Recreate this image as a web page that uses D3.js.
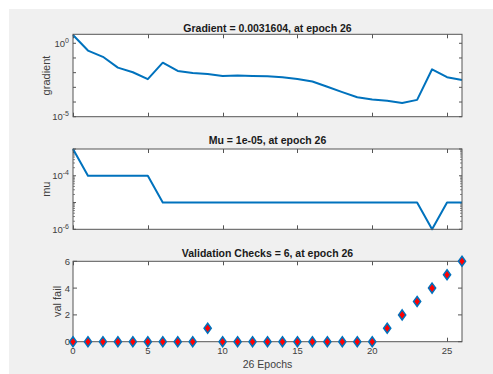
<!DOCTYPE html>
<html><head><meta charset="utf-8">
<script src="https://cdn.jsdelivr.net/npm/d3@7"></script>
<style>body{margin:0;background:#fff}svg{display:block;font-family:"Liberation Sans",Arial,sans-serif}</style>
</head><body><svg id="c" width="493" height="374"></svg>
<script>
const epochs = d3.range(0, 27);
const gradient = [3.7,0.32,0.12,0.022,0.0107,0.0036,0.048,0.013,0.0096,0.0082,0.006,0.0063,0.006,0.0057,0.0049,0.0037,0.0025,0.0011,0.00047,0.00021,0.00015,0.00012,0.000087,0.00014,0.017,0.0049,0.0031604];
const mu = [1e-3,1e-4,1e-4,1e-4,1e-4,1e-4,1e-5,1e-5,1e-5,1e-5,1e-5,1e-5,1e-5,1e-5,1e-5,1e-5,1e-5,1e-5,1e-5,1e-5,1e-5,1e-5,1e-5,1e-5,1e-6,1e-5,1e-5];
const valFail = [0,0,0,0,0,0,0,0,0,1,0,0,0,0,0,0,0,0,0,0,0,1,2,3,4,5,6];
const xTicks = [0,5,10,15,20,25];
const titles = ["Gradient = 0.0031604, at epoch 26","Mu = 1e-05, at epoch 26","Validation Checks = 6, at epoch 26"];
const yLabels = ["gradient","mu","val fail"];
const xLabel = "26 Epochs";

const svg = d3.select("#c");
svg.append("rect").attr("x",9).attr("y",9).attr("width",484).attr("height",365).attr("fill","#f0f0f0");
const L=73,R=462;
const x = d3.scaleLinear().domain([0,26]).range([L,R]);
const blue="#0072BD", axc="#555", txt="#404040";

function frame(top,bot){
  svg.append("rect").attr("x",L).attr("y",top).attr("width",R-L).attr("height",bot-top).attr("fill","#fff");
}
function box(top,bot){
  svg.append("rect").attr("x",L).attr("y",top).attr("width",R-L).attr("height",bot-top).attr("fill","none").attr("stroke",axc).attr("stroke-width",1);
}
function xticks(top,bot,labels){
  xTicks.forEach(t=>{
    const px=Math.round(x(t))+0.5;
    svg.append("line").attr("x1",px).attr("x2",px).attr("y1",bot).attr("y2",bot-4).attr("stroke",axc);
    svg.append("line").attr("x1",px).attr("x2",px).attr("y1",top).attr("y2",top+4).attr("stroke",axc);
    if(labels) svg.append("text").attr("x",x(t)).attr("y",bot+12).attr("text-anchor","middle").attr("font-size","9.5px").attr("fill",txt).text(t);
  });
}
function title(t,yb){
  svg.append("text").attr("x",(L+R)/2).attr("y",yb).attr("text-anchor","middle").attr("font-size","10.5px").attr("font-weight","bold").attr("fill","#1a1a1a").text(t);
}
function ylab(t,xc,yc){
  svg.append("text").attr("transform",`translate(${xc},${yc}) rotate(-90)`).attr("text-anchor","middle").attr("font-size","11px").attr("fill",txt).text(t);
}
function powLabel(exp,py){
  const tx=svg.append("text").attr("x",69).attr("y",py+3.5).attr("text-anchor","end").attr("font-size","9.5px").attr("fill",txt);
  tx.append("tspan").text("10");
  tx.append("tspan").attr("dy",-4).attr("font-size","7px").text(exp);
}
function logTicks(y,lo,hi,minor){
  for(let e=lo;e<=hi;e++){
    const py=y(Math.pow(10,e));
    svg.append("line").attr("x1",L).attr("x2",L+3).attr("y1",py).attr("y2",py).attr("stroke",axc);
    svg.append("line").attr("x1",R).attr("x2",R-3).attr("y1",py).attr("y2",py).attr("stroke",axc);
    if(minor && e<hi){
      for(let m=2;m<10;m++){
        const pm=y(m*Math.pow(10,e));
        svg.append("line").attr("x1",L).attr("x2",L+2).attr("y1",pm).attr("y2",pm).attr("stroke",axc).attr("stroke-width",0.7);
        svg.append("line").attr("x1",R).attr("x2",R-2).attr("y1",pm).attr("y2",pm).attr("stroke",axc).attr("stroke-width",0.7);
      }
    }
  }
}

// Panel 1
{
  const top=34.3,bot=116.7;
  const y=d3.scaleLog().domain([1e-5,4.1]).range([bot,top]);
  frame(top,bot);
  logTicks(y,-5,0,false);
  xticks(top,bot,false);
  svg.append("path").datum(epochs).attr("fill","none").attr("stroke",blue).attr("stroke-width",2)
    .attr("stroke-linejoin","round")
    .attr("d",d3.line().x(i=>x(i)).y(i=>y(gradient[i])));
  box(top,bot);
  powLabel("0",y(1)); powLabel("-5",y(1e-5));
  title(titles[0],32);
  ylab(yLabels[0],50,(top+bot)/2);
}
// Panel 2
{
  const top=149,bot=229.3;
  const y=d3.scaleLog().domain([1e-6,1e-3]).range([bot,top]);
  frame(top,bot);
  logTicks(y,-6,-3,true);
  xticks(top,bot,false);
  svg.append("path").datum(epochs).attr("fill","none").attr("stroke",blue).attr("stroke-width",2)
    .attr("stroke-linejoin","round")
    .attr("d",d3.line().x(i=>x(i)).y(i=>y(mu[i])));
  box(top,bot);
  powLabel("-4",y(1e-4)); powLabel("-6",y(1e-6));
  title(titles[1],144);
  ylab(yLabels[1],50,(top+bot)/2);
}
// Panel 3
{
  const top=261.3,bot=341.7;
  const y=d3.scaleLinear().domain([0,6]).range([bot,top]);
  frame(top,bot);
  xticks(top,bot,true);
  [0,2,4,6].forEach(t=>{
    const py=y(t);
    svg.append("line").attr("x1",L).attr("x2",L+4).attr("y1",py).attr("y2",py).attr("stroke",axc);
    svg.append("line").attr("x1",R).attr("x2",R-4).attr("y1",py).attr("y2",py).attr("stroke",axc);
    svg.append("text").attr("x",70).attr("y",py+3.5).attr("text-anchor","end").attr("font-size","9.5px").attr("fill",txt).text(t);
  });
  box(top,bot);
  svg.append("g").selectAll("path").data(epochs).join("path")
    .attr("transform",i=>`translate(${x(i)},${y(valFail[i])})`)
    .attr("d","M0,-5L3.6,0L0,5L-3.6,0Z")
    .attr("fill","#ff0000").attr("stroke",blue).attr("stroke-width",1.5);
  title(titles[2],257);
  ylab(yLabels[2],61,(top+bot)/2);
  svg.append("text").attr("x",(L+R)/2).attr("y",368).attr("text-anchor","middle").attr("font-size","10.5px").attr("fill",txt).text(xLabel);
}
</script></body></html>
